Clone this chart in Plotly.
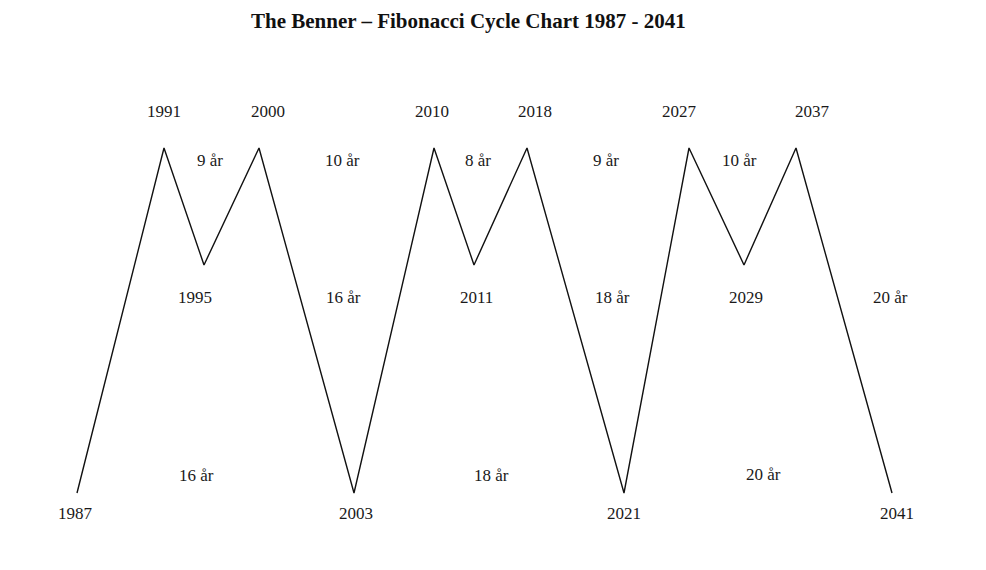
import plotly.graph_objects as go

# Turning points of the Benner cycle (horizontal position in chart units, level 0=trough, 1=peak)
years = ["1987", "1991", "1995", "2000", "2003", "2010", "2011", "2018", "2021", "2027", "2029", "2037", "2041"]
x_pos = [77, 164, 204, 259, 354, 434, 474, 527, 624, 689, 744, 796, 892]
level = [0, 1, 0.661, 1, 0, 1, 0.661, 1, 0, 1, 0.661, 1, 0]

# Year label placement
year_label_x = [75, 164, 195, 268, 356, 432, 476, 535, 624, 679, 746, 812, 897]
year_label_y = [-0.058, 1.107, 0.568, 1.107, -0.058, 1.107, 0.568, 1.107, -0.058, 1.107, 0.568, 1.107, -0.058]

# Cycle length labels
cycle_text = ["9 år", "10 år", "8 år", "9 år", "10 år", "16 år", "18 år", "20 år", "16 år", "18 år", "20 år"]
cycle_x = [210, 342, 478, 606, 739, 343, 612, 890, 196, 491, 763]
cycle_y = [0.965, 0.965, 0.965, 0.965, 0.965, 0.568, 0.568, 0.568, 0.052, 0.052, 0.055]

title = "The Benner – Fibonacci Cycle Chart 1987 - 2041"

OFF = 8  # page body margin

fig = go.Figure()
fig.add_trace(go.Scatter(x=x_pos, y=level, mode="lines",
                         line=dict(color="#111111", width=1.4),
                         hoverinfo="skip", showlegend=False))

font = dict(family="Liberation Serif, Times New Roman, serif", size=17, color="#1a1a1a")
for t, x, y in zip(years, year_label_x, year_label_y):
    fig.add_annotation(x=x, y=y, text=t, showarrow=False, font=font, xanchor="center", yanchor="middle")
for t, x, y in zip(cycle_text, cycle_x, cycle_y):
    fig.add_annotation(x=x, y=y, text=t, showarrow=False, font=font, xanchor="center", yanchor="middle")

fig.add_annotation(text="<b>" + title + "</b>", xref="paper", yref="paper",
                   x=(468 - OFF) / 986, y=1, xanchor="center", yanchor="top",
                   showarrow=False, borderpad=0,
                   font=dict(family="Liberation Serif, Times New Roman, serif", size=21, color="#111111"))

fig.update_layout(
    width=986, height=570,
    margin=dict(l=0, r=0, t=0, b=0),
    paper_bgcolor="white", plot_bgcolor="white",
    xaxis=dict(range=[OFF, 986 + OFF], visible=False, fixedrange=True),
    yaxis=dict(range=[(493 - 570 - OFF) / 345, (493 - OFF) / 345], visible=False, fixedrange=True),
)

fig.write_html("out.html")
